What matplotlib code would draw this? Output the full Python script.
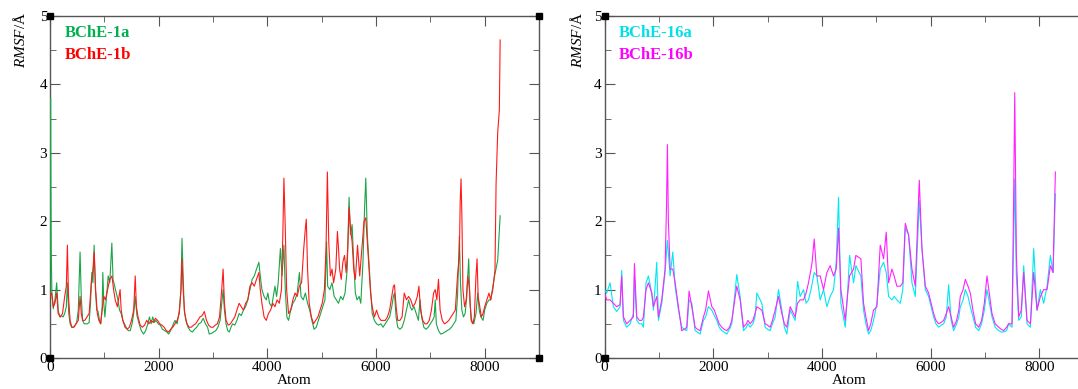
import matplotlib
matplotlib.use("Agg")
import matplotlib.pyplot as plt
import numpy as np

# RMSF per atom (atom index, RMSF in A)
bche_1a = [(0, 0.9), (10, 3.8), (22, 1.6), (35, 0.95), (60, 0.72), (90, 0.85), (123, 1.1), (150, 0.7), (180, 0.6),
           (210, 0.62), (240, 0.6), (270, 0.65), (300, 0.75), (320, 1.1), (345, 0.65), (370, 0.5), (400, 0.45),
           (430, 0.45), (460, 0.48), (490, 0.52), (520, 0.7), (553, 1.55), (575, 0.9), (600, 0.55), (630, 0.5),
           (660, 0.5), (690, 0.5), (720, 0.52), (745, 0.8), (770, 1.25), (790, 1.1), (812, 1.65), (835, 1.0),
           (860, 0.7), (885, 0.68), (910, 0.55), (935, 0.5), (960, 0.75), (972, 1.25), (990, 0.8), (1010, 0.6),
           (1040, 0.9), (1070, 1.2), (1100, 1.1), (1138, 1.68), (1160, 1.15), (1190, 1.05), (1220, 0.95),
           (1250, 0.85), (1280, 0.7), (1310, 0.65), (1340, 0.55), (1370, 0.5), (1400, 0.45), (1440, 0.4),
           (1476, 0.4), (1510, 0.5), (1540, 0.65), (1568, 0.9), (1600, 0.62), (1640, 0.5), (1680, 0.4),
           (1722, 0.35), (1760, 0.4), (1800, 0.5), (1830, 0.6), (1860, 0.5), (1890, 0.6), (1920, 0.52),
           (1950, 0.55), (1990, 0.5), (2030, 0.48), (2070, 0.42), (2110, 0.4), (2150, 0.38), (2183, 0.35),
           (2220, 0.4), (2260, 0.48), (2300, 0.55), (2340, 0.5), (2380, 0.7), (2410, 1.0), (2429, 1.75),
           (2450, 1.2), (2470, 0.7), (2500, 0.55), (2540, 0.45), (2580, 0.4), (2620, 0.38), (2660, 0.42),
           (2700, 0.45), (2740, 0.5), (2780, 0.52), (2820, 0.58), (2860, 0.5), (2900, 0.45), (2930, 0.35),
           (2970, 0.36), (3010, 0.38), (3050, 0.4), (3090, 0.45), (3130, 0.55), (3160, 0.8), (3186, 1.0),
           (3210, 0.7), (3240, 0.5), (3270, 0.4), (3300, 0.38), (3330, 0.45), (3360, 0.5), (3400, 0.48),
           (3440, 0.55), (3480, 0.65), (3520, 0.62), (3560, 0.7), (3600, 0.75), (3640, 0.85), (3680, 1.0),
           (3720, 1.15), (3760, 1.2), (3800, 1.3), (3844, 1.4), (3870, 1.2), (3900, 1.0), (3940, 0.9),
           (3980, 0.85), (4010, 0.95), (4040, 0.8), (4080, 0.75), (4110, 0.9), (4140, 1.05), (4170, 0.9),
           (4200, 1.1), (4240, 1.6), (4270, 1.2), (4305, 1.65), (4330, 1.0), (4360, 0.6), (4390, 0.55),
           (4430, 0.7), (4470, 0.8), (4510, 0.85), (4550, 0.95), (4590, 1.25), (4620, 0.9), (4660, 0.85),
           (4700, 0.95), (4740, 0.8), (4780, 0.7), (4820, 0.55), (4860, 0.42), (4900, 0.45), (4940, 0.55),
           (4980, 0.65), (5020, 0.75), (5060, 0.85), (5090, 1.7), (5110, 1.05), (5150, 1.0), (5190, 1.1),
           (5230, 0.9), (5270, 0.85), (5310, 0.8), (5350, 0.9), (5390, 0.85), (5430, 0.95), (5470, 1.3),
           (5504, 2.35), (5530, 1.8), (5560, 1.95), (5590, 1.4), (5620, 0.95), (5650, 0.85), (5690, 0.9),
           (5720, 0.8), (5760, 1.4), (5790, 2.2), (5812, 2.63), (5840, 1.8), (5870, 1.4), (5900, 1.0),
           (5930, 0.65), (5970, 0.55), (6010, 0.5), (6050, 0.48), (6090, 0.5), (6130, 0.45), (6170, 0.5),
           (6210, 0.55), (6250, 0.6), (6290, 0.75), (6320, 0.9), (6340, 0.95), (6370, 0.6), (6400, 0.45),
           (6440, 0.42), (6480, 0.45), (6520, 0.55), (6560, 0.7), (6600, 0.85), (6630, 0.75), (6660, 0.7),
           (6700, 0.75), (6740, 0.65), (6780, 0.55), (6810, 0.85), (6840, 0.6), (6880, 0.45), (6920, 0.42),
           (6960, 0.45), (7000, 0.5), (7040, 0.55), (7070, 0.6), (7090, 0.85), (7110, 0.5), (7150, 0.4),
           (7190, 0.35), (7230, 0.36), (7270, 0.38), (7310, 0.4), (7350, 0.42), (7390, 0.45), (7430, 0.5),
           (7470, 0.55), (7500, 0.9), (7534, 1.78), (7555, 1.1), (7580, 0.7), (7610, 0.6), (7640, 0.65),
           (7670, 0.9), (7706, 1.45), (7730, 0.8), (7760, 0.55), (7800, 0.5), (7840, 0.65), (7872, 0.95),
           (7900, 0.7), (7930, 0.6), (7970, 0.55), (8000, 0.7), (8040, 0.8), (8080, 0.85), (8110, 0.85),
           (8180, 1.19), (8240, 1.43), (8285, 2.08)]

bche_1b = [(0, 0.9), (30, 0.95), (60, 0.75), (90, 0.8), (123, 0.95), (150, 0.65), (190, 0.6), (230, 0.65),
           (270, 0.9), (300, 1.05), (320, 1.65), (340, 0.9), (370, 0.55), (400, 0.45), (440, 0.45), (480, 0.5),
           (520, 0.55), (553, 0.9), (575, 0.65), (600, 0.55), (640, 0.55), (680, 0.6), (720, 0.65), (760, 1.1),
           (790, 1.3), (812, 1.55), (840, 1.0), (870, 0.65), (900, 0.55), (930, 0.5), (960, 0.7), (990, 0.9),
           (1020, 0.85), (1060, 1.0), (1100, 1.15), (1140, 1.2), (1170, 1.0), (1200, 0.85), (1240, 0.75),
           (1270, 0.9), (1290, 1.0), (1310, 0.7), (1340, 0.55), (1380, 0.45), (1420, 0.42), (1460, 0.45),
           (1500, 0.55), (1540, 0.7), (1568, 1.2), (1590, 0.75), (1620, 0.6), (1660, 0.48), (1700, 0.45),
           (1740, 0.48), (1780, 0.55), (1820, 0.5), (1860, 0.55), (1900, 0.52), (1940, 0.58), (1980, 0.55),
           (2020, 0.5), (2060, 0.48), (2100, 0.45), (2140, 0.4), (2183, 0.38), (2220, 0.42), (2260, 0.45),
           (2300, 0.5), (2340, 0.55), (2380, 0.65), (2410, 1.0), (2429, 1.45), (2450, 1.0), (2480, 0.65),
           (2520, 0.5), (2560, 0.45), (2600, 0.45), (2640, 0.48), (2680, 0.5), (2720, 0.55), (2760, 0.6),
           (2800, 0.62), (2840, 0.68), (2880, 0.55), (2920, 0.48), (2960, 0.45), (3000, 0.45), (3040, 0.48),
           (3080, 0.5), (3120, 0.6), (3160, 1.0), (3186, 1.3), (3210, 0.8), (3240, 0.55), (3280, 0.48),
           (3320, 0.5), (3360, 0.55), (3400, 0.6), (3440, 0.7), (3480, 0.8), (3520, 0.75), (3560, 0.7),
           (3600, 0.8), (3640, 0.85), (3680, 1.05), (3720, 1.1), (3760, 1.05), (3800, 1.15), (3844, 1.25),
           (3870, 1.0), (3900, 0.8), (3940, 0.6), (3980, 0.55), (4020, 0.65), (4060, 0.7), (4100, 0.8),
           (4140, 0.75), (4180, 0.85), (4220, 0.8), (4260, 1.0), (4285, 1.8), (4305, 2.63), (4330, 1.9),
           (4355, 1.0), (4390, 0.65), (4430, 0.7), (4470, 0.85), (4510, 0.95), (4550, 0.9), (4590, 1.05),
           (4630, 1.1), (4670, 1.6), (4700, 1.9), (4717, 2.03), (4740, 1.3), (4770, 0.8), (4810, 0.6),
           (4850, 0.5), (4890, 0.55), (4930, 0.6), (4970, 0.7), (5010, 0.8), (5050, 1.0), (5080, 1.6),
           (5105, 2.72), (5130, 1.7), (5160, 1.2), (5190, 1.3), (5220, 1.1), (5260, 1.3), (5290, 1.85),
           (5310, 1.6), (5330, 1.3), (5360, 1.15), (5390, 1.4), (5420, 1.5), (5450, 1.25), (5480, 1.6),
           (5504, 2.2), (5530, 1.9), (5560, 1.7), (5590, 1.3), (5620, 1.15), (5660, 1.65), (5700, 1.2),
           (5740, 1.6), (5780, 2.0), (5812, 2.05), (5840, 1.7), (5870, 1.3), (5900, 0.95), (5930, 0.75),
           (5970, 0.6), (6010, 0.7), (6050, 0.6), (6090, 0.55), (6130, 0.55), (6170, 0.55), (6210, 0.6),
           (6250, 0.7), (6290, 0.9), (6320, 1.05), (6340, 1.07), (6370, 0.75), (6400, 0.55), (6440, 0.55),
           (6480, 0.6), (6520, 0.95), (6560, 0.85), (6600, 0.9), (6640, 0.85), (6680, 0.75), (6720, 0.8),
           (6760, 0.9), (6790, 1.05), (6820, 0.7), (6860, 0.55), (6900, 0.5), (6940, 0.5), (6980, 0.55),
           (7020, 0.7), (7060, 0.95), (7090, 1.0), (7120, 0.85), (7150, 1.15), (7180, 0.7), (7220, 0.55),
           (7260, 0.5), (7300, 0.52), (7340, 0.55), (7380, 0.6), (7420, 0.65), (7460, 0.7), (7500, 1.2),
           (7534, 1.5), (7550, 2.3), (7565, 2.62), (7580, 2.1), (7600, 1.0), (7630, 0.75), (7660, 0.85),
           (7690, 1.2), (7720, 1.0), (7750, 0.55), (7780, 0.5), (7810, 0.6), (7840, 1.2), (7860, 1.45),
           (7880, 0.9), (7910, 0.75), (7940, 0.6), (7970, 0.65), (8000, 0.75), (8040, 0.85), (8080, 0.95),
           (8110, 0.85), (8150, 1.0), (8190, 1.29), (8210, 2.55), (8240, 3.3), (8270, 3.62), (8285, 4.65)]

bche_16a = [(0, 1.0), (40, 0.95), (101, 1.1), (163, 0.75), (224, 0.68), (286, 0.75), (316, 1.28), (347, 0.55),
            (408, 0.45), (470, 0.5), (531, 0.65), (550, 1.2), (593, 0.55), (640, 0.5), (685, 0.5), (715, 0.45),
            (764, 1.1), (807, 1.2), (869, 0.95), (900, 0.7), (961, 1.4), (992, 0.55), (1053, 0.8), (1114, 1.25),
            (1157, 1.72), (1207, 1.2), (1256, 1.55), (1299, 1.05), (1360, 0.7), (1421, 0.45), (1470, 0.42),
            (1513, 0.4), (1556, 0.85), (1606, 0.8), (1667, 0.4), (1710, 0.38), (1759, 0.35), (1820, 0.55),
            (1860, 0.6), (1912, 0.75), (1974, 0.7), (2020, 0.62), (2066, 0.55), (2110, 0.45), (2158, 0.4),
            (2200, 0.38), (2250, 0.35), (2300, 0.42), (2342, 0.5), (2434, 1.22), (2496, 0.9), (2557, 0.4),
            (2610, 0.45), (2640, 0.5), (2680, 0.45), (2730, 0.5), (2770, 0.6), (2803, 0.95), (2895, 0.8),
            (2956, 0.45), (3000, 0.42), (3048, 0.4), (3090, 0.5), (3140, 0.6), (3202, 1.0), (3263, 0.7),
            (3310, 0.45), (3355, 0.35), (3417, 0.7), (3509, 0.55), (3552, 1.12), (3600, 0.9), (3662, 1.0),
            (3710, 0.8), (3754, 0.85), (3800, 1.0), (3859, 1.25), (3908, 1.2), (3969, 0.85), (4031, 1.0),
            (4092, 0.75), (4153, 0.9), (4215, 1.0), (4264, 1.4), (4307, 2.35), (4350, 0.8), (4430, 0.45),
            (4470, 0.9), (4510, 1.5), (4583, 1.1), (4626, 1.35), (4718, 1.2), (4767, 0.7), (4810, 0.5),
            (4859, 0.35), (4900, 0.4), (4951, 0.55), (5013, 0.8), (5074, 1.3), (5136, 1.4), (5185, 1.25),
            (5228, 0.9), (5289, 0.85), (5330, 0.9), (5381, 0.85), (5443, 0.8), (5490, 1.0), (5535, 1.9),
            (5596, 1.8), (5658, 1.1), (5719, 0.9), (5793, 2.3), (5842, 1.6), (5904, 1.0), (5965, 0.9),
            (6057, 0.6), (6100, 0.5), (6149, 0.45), (6195, 0.48), (6241, 0.5), (6290, 0.6), (6333, 1.07),
            (6380, 0.55), (6425, 0.4), (6480, 0.5), (6520, 0.6), (6548, 0.75), (6600, 0.85), (6640, 1.0),
            (6690, 0.9), (6732, 0.75), (6780, 0.6), (6830, 0.45), (6886, 0.4), (6940, 0.5), (6990, 0.7),
            (7039, 1.0), (7131, 0.6), (7190, 0.45), (7254, 0.4), (7300, 0.38), (7346, 0.38), (7400, 0.4),
            (7438, 0.5), (7500, 0.45), (7525, 1.5), (7550, 2.62), (7580, 1.2), (7623, 0.55), (7670, 0.6),
            (7715, 1.35), (7776, 0.5), (7838, 0.45), (7899, 1.6), (7960, 0.7), (8022, 1.0), (8083, 0.8),
            (8145, 1.05), (8206, 1.5), (8255, 1.25), (8298, 2.4)]

bche_16b = [(0, 0.95), (40, 0.85), (101, 0.85), (163, 0.8), (224, 0.75), (286, 0.78), (316, 1.2), (347, 0.6),
            (408, 0.5), (470, 0.55), (531, 0.6), (550, 1.38), (593, 0.6), (640, 0.55), (685, 0.55), (715, 0.6),
            (764, 1.0), (807, 1.1), (869, 0.95), (900, 0.75), (961, 0.9), (992, 0.6), (1053, 0.85), (1114, 1.3),
            (1140, 2.2), (1157, 3.12), (1175, 2.0), (1207, 1.3), (1256, 1.3), (1299, 1.1), (1360, 0.75),
            (1421, 0.4), (1470, 0.42), (1513, 0.45), (1556, 0.98), (1606, 0.75), (1667, 0.45), (1710, 0.42),
            (1759, 0.4), (1820, 0.6), (1860, 0.7), (1912, 0.98), (1974, 0.75), (2020, 0.7), (2066, 0.6),
            (2110, 0.5), (2158, 0.45), (2200, 0.42), (2250, 0.4), (2300, 0.45), (2342, 0.55), (2434, 1.05),
            (2496, 0.85), (2557, 0.45), (2610, 0.5), (2640, 0.55), (2680, 0.5), (2730, 0.55), (2770, 0.65),
            (2803, 0.75), (2895, 0.7), (2956, 0.5), (3000, 0.48), (3048, 0.45), (3090, 0.55), (3140, 0.7),
            (3202, 0.9), (3263, 0.65), (3310, 0.5), (3355, 0.45), (3417, 0.75), (3509, 0.6), (3552, 0.8),
            (3600, 0.85), (3662, 0.85), (3710, 0.95), (3754, 1.1), (3800, 1.3), (3820, 1.4), (3859, 1.74),
            (3908, 1.2), (3969, 1.2), (4031, 1.0), (4092, 1.25), (4153, 1.35), (4215, 1.2), (4264, 1.3),
            (4307, 1.9), (4350, 1.0), (4430, 0.55), (4470, 0.9), (4510, 1.2), (4583, 1.3), (4626, 1.5),
            (4718, 1.45), (4767, 0.8), (4810, 0.6), (4859, 0.4), (4900, 0.5), (4951, 0.7), (5013, 0.75),
            (5074, 1.65), (5136, 1.45), (5185, 1.84), (5228, 1.1), (5289, 1.3), (5330, 1.2), (5381, 1.05),
            (5443, 1.05), (5490, 1.1), (5535, 1.97), (5596, 1.8), (5658, 1.3), (5719, 1.05), (5793, 2.6),
            (5842, 1.6), (5904, 1.05), (5965, 0.95), (6057, 0.65), (6100, 0.55), (6149, 0.5), (6195, 0.52),
            (6241, 0.55), (6290, 0.65), (6333, 0.75), (6380, 0.6), (6425, 0.45), (6480, 0.55), (6520, 0.7),
            (6548, 0.9), (6600, 1.0), (6640, 1.15), (6690, 1.05), (6732, 0.95), (6780, 0.7), (6830, 0.5),
            (6886, 0.45), (6940, 0.55), (6990, 0.8), (7039, 1.2), (7131, 0.65), (7190, 0.5), (7254, 0.45),
            (7300, 0.42), (7346, 0.4), (7400, 0.45), (7438, 0.5), (7500, 0.5), (7525, 2.0), (7550, 3.88),
            (7580, 1.5), (7623, 0.6), (7670, 0.7), (7715, 1.25), (7776, 0.55), (7838, 0.5), (7899, 1.25),
            (7960, 0.7), (8022, 0.9), (8083, 1.0), (8145, 1.0), (8206, 1.35), (8255, 1.25), (8298, 2.72)]

x_max = 9000
y_max = 5
x_ticks = [0, 2000, 4000, 6000, 8000]
y_ticks = [0, 1, 2, 3, 4, 5]

plt.rcParams['font.family'] = ['Liberation Serif', 'DejaVu Serif']
plt.rcParams['mathtext.fontset'] = 'custom'
plt.rcParams['mathtext.rm'] = 'Liberation Serif'
plt.rcParams['mathtext.it'] = 'Liberation Serif:italic'

fig = plt.figure(figsize=(10.78, 3.89), dpi=100)
ax1 = fig.add_axes([0.0464, 0.0797, 0.4536, 0.879])
ax2 = fig.add_axes([0.5608, 0.0797, 0.4536, 0.879])

panels = [
    (ax1, bche_1a, bche_1b, '#1aa547', '#ff1a1a', ('BChE-1a', '#00b050'), ('BChE-1b', '#ff0000'), -0.045),
    (ax2, bche_16a, bche_16b, '#00e8f0', '#ff22ff', ('BChE-16a', '#00e0e8'), ('BChE-16b', '#ff00ff'), -0.04),
]

for ax, sa, sb, ca, cb, la, lb, ylx in panels:
    xa, ya = zip(*sorted(sa))
    xb, yb = zip(*sorted(sb))
    ax.plot(xa, ya, color=ca, lw=0.8, zorder=3)
    ax.plot(xb, yb, color=cb, lw=0.8, zorder=3)
    ax.set_xlim(0, x_max)
    ax.set_ylim(0, y_max)
    ax.set_xticks(x_ticks)
    ax.set_xticks(np.arange(1000, x_max, 2000), minor=True)
    ax.set_yticks(y_ticks)
    ax.set_yticks(np.arange(0.5, y_max, 1), minor=True)
    ax.tick_params(which='both', direction='in', top=True, right=True, color='#555555',
                   labelsize=11, pad=2)
    ax.tick_params(which='major', length=7)
    ax.tick_params(which='minor', length=4)
    for s in ax.spines.values():
        s.set_color('#555555')
        s.set_linewidth(1.0)
    ax.set_xlabel('Atom', fontsize=11, labelpad=0)
    ax.set_ylabel(r'$\mathit{RMSF}$/Å', fontsize=11)
    ax.yaxis.set_label_coords(ylx, 0.93)
    # corner markers, xmgrace style
    ax.plot([0, 0, x_max, x_max], [0, y_max, 0, y_max], 's', color='black', ms=4, clip_on=False, zorder=5)
    # legend text
    for yy, (txt, col) in zip([0.95, 0.885], [la, lb]):
        ax.text(0.03, yy, txt, transform=ax.transAxes, color=col, fontsize=12, fontweight='bold',
                va='center', ha='left')

fig.savefig('out.png', dpi=100)
